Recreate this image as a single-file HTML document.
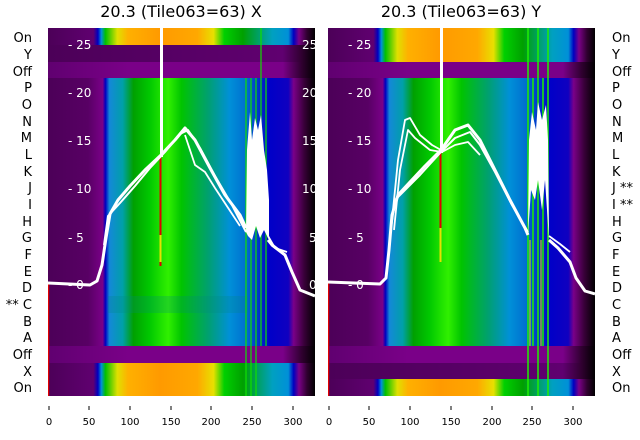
<!DOCTYPE html>
<html><head><meta charset="utf-8"><style>
html,body{margin:0;padding:0;background:#fff;width:640px;height:440px;overflow:hidden}
svg{display:block}
text{font-family:"DejaVu Sans","Liberation Sans",sans-serif}
</style></head><body>
<svg width="640" height="440" viewBox="0 0 640 440" xmlns="http://www.w3.org/2000/svg">
<defs>
<linearGradient id="main" gradientUnits="userSpaceOnUse" x1="48" y1="0" x2="315" y2="0">
<stop offset="0" stop-color="#4c0058"/><stop offset="0.15" stop-color="#580064"/>
<stop offset="0.205" stop-color="#7a0088"/><stop offset="0.215" stop-color="#0000c0"/>
<stop offset="0.23" stop-color="#1488d8"/><stop offset="0.28" stop-color="#00a0a8"/>
<stop offset="0.32" stop-color="#00a000"/><stop offset="0.38" stop-color="#00c800"/>
<stop offset="0.45" stop-color="#30f000"/><stop offset="0.5" stop-color="#00c400"/>
<stop offset="0.6" stop-color="#00a070"/><stop offset="0.68" stop-color="#0090d8"/>
<stop offset="0.74" stop-color="#0070d0"/><stop offset="0.83" stop-color="#0000c8"/>
<stop offset="0.9" stop-color="#1000c0"/><stop offset="0.92" stop-color="#7a0088"/>
<stop offset="0.96" stop-color="#380038"/><stop offset="1" stop-color="#000"/>
</linearGradient>
<linearGradient id="on" gradientUnits="userSpaceOnUse" x1="48" y1="0" x2="315" y2="0">
<stop offset="0" stop-color="#4c0058"/><stop offset="0.17" stop-color="#600070"/>
<stop offset="0.187" stop-color="#0000c0"/><stop offset="0.2" stop-color="#0090d8"/>
<stop offset="0.215" stop-color="#00c000"/><stop offset="0.26" stop-color="#e0e000"/>
<stop offset="0.3" stop-color="#ffb000"/><stop offset="0.42" stop-color="#ff9a00"/>
<stop offset="0.56" stop-color="#ffa800"/><stop offset="0.62" stop-color="#e8e000"/>
<stop offset="0.66" stop-color="#00d000"/><stop offset="0.73" stop-color="#00a000"/>
<stop offset="0.84" stop-color="#00a0c0"/><stop offset="0.9" stop-color="#0090d8"/>
<stop offset="0.92" stop-color="#0000c0"/><stop offset="0.94" stop-color="#7a0088"/>
<stop offset="0.97" stop-color="#300030"/><stop offset="1" stop-color="#000"/>
</linearGradient>
<linearGradient id="off" gradientUnits="userSpaceOnUse" x1="48" y1="0" x2="315" y2="0">
<stop offset="0" stop-color="#600070"/><stop offset="0.3" stop-color="#7a0088"/>
<stop offset="0.88" stop-color="#7a0088"/><stop offset="0.95" stop-color="#300030"/>
<stop offset="1" stop-color="#000"/>
</linearGradient>
<linearGradient id="dark" gradientUnits="userSpaceOnUse" x1="48" y1="0" x2="315" y2="0">
<stop offset="0" stop-color="#4c0058"/><stop offset="0.88" stop-color="#600070"/>
<stop offset="0.95" stop-color="#300030"/><stop offset="1" stop-color="#000"/>
</linearGradient>
<clipPath id="cl"><rect x="48" y="28" width="267" height="368"/></clipPath>
</defs>

<text x="181" y="17" font-size="16" text-anchor="middle" fill="#000">20.3 (Tile063=63) X</text>
<text x="461" y="17" font-size="16" text-anchor="middle" fill="#000">20.3 (Tile063=63) Y</text>

<!-- LEFT PANEL -->
<g clip-path="url(#cl)">
<rect x="48" y="28" width="267" height="17" fill="url(#on)"/>
<rect x="48" y="45" width="267" height="17" fill="url(#dark)"/>
<rect x="48" y="62" width="267" height="16" fill="url(#off)"/>
<rect x="48" y="78" width="267" height="268" fill="url(#main)"/>
<rect x="108" y="296" width="140" height="17" fill="#008880" opacity="0.25"/>
<rect x="48" y="346" width="267" height="17" fill="url(#off)"/>
<rect x="48" y="363" width="267" height="33" fill="url(#on)"/>
<g stroke="#10e000" stroke-width="1.2">
<line x1="246" y1="78" x2="246" y2="396"/><line x1="251" y1="78" x2="251" y2="396"/>
<line x1="256" y1="78" x2="256" y2="396"/><line x1="261" y1="28" x2="261" y2="346"/>
<line x1="266" y1="78" x2="266" y2="346"/>
</g>
<line x1="160.5" y1="157" x2="160.5" y2="266" stroke="#e00000" stroke-width="2"/>
<line x1="160.5" y1="235" x2="160.5" y2="262" stroke="#e8e000" stroke-width="2"/>
<line x1="161.5" y1="28" x2="161.5" y2="157" stroke="#fff" stroke-width="3"/>
<line x1="48.5" y1="284" x2="48.5" y2="396" stroke="#e00000" stroke-width="1.5"/>
<g fill="#fff" font-size="12">
<text x="68" y="49">- 25</text><text x="68" y="97">- 20</text><text x="68" y="145">- 15</text>
<text x="68" y="193">- 10</text><text x="68" y="242">- 5</text><text x="68" y="289">- 0</text>
<text x="302" y="49">25</text><text x="302" y="97">20</text><text x="302" y="145">15</text>
<text x="302" y="193">10</text><text x="309" y="242">5</text><text x="309" y="289">0</text>
</g>
<g fill="none" stroke="#fff" stroke-width="3" stroke-linejoin="round">
<polyline points="48,283 90,285 97,281 102,265 106,238 110,214 118,200 130,186 145,170 160,156 175,140 185,128 195,140 210,168 225,195 240,215 246,228"/>
<polyline points="104,245 108,216 120,203 135,186 150,168 165,152 180,134 188,130 200,148 215,176 232,205 246,232" stroke-width="2"/>
<polyline points="185,135 195,165 205,172 215,188 240,226" stroke-width="1.8"/>
<polyline points="268,240 272,245 285,255 292,272 300,290 315,296"/>
<polyline points="268,236 275,248 287,252" stroke-width="1.8"/>
</g>
<polygon fill="#fff" points="246,232 247,150 250,112 252,140 255,118 258,130 261,115 264,150 267,170 269,200 269,240 264,230 260,238 256,226 252,240 248,236"/>
</g>

<!-- RIGHT PANEL -->
<g transform="translate(280,0)">
<g clip-path="url(#cl)">
<rect x="48" y="28" width="267" height="34" fill="url(#on)"/>
<rect x="48" y="62" width="267" height="16" fill="url(#off)"/>
<rect x="48" y="78" width="267" height="268" fill="url(#main)"/>
<rect x="48" y="346" width="267" height="17" fill="url(#off)"/>
<rect x="48" y="363" width="267" height="16" fill="url(#dark)"/>
<rect x="48" y="379" width="267" height="17" fill="url(#on)"/>
<g stroke="#20f000" stroke-width="1.5">
<line x1="248" y1="28" x2="248" y2="396"/><line x1="253" y1="78" x2="253" y2="346"/>
<line x1="258" y1="28" x2="258" y2="396"/><line x1="263" y1="78" x2="263" y2="346"/>
<line x1="268" y1="28" x2="268" y2="396"/>
</g>
<g stroke="#e8e000" stroke-width="1">
<line x1="250" y1="240" x2="250" y2="346"/><line x1="261" y1="240" x2="261" y2="346"/>
</g>
<line x1="160.5" y1="153" x2="160.5" y2="262" stroke="#e00000" stroke-width="2"/>
<line x1="160.5" y1="228" x2="160.5" y2="262" stroke="#e8e000" stroke-width="2"/>
<line x1="161.5" y1="28" x2="161.5" y2="153" stroke="#fff" stroke-width="3"/>
<line x1="48.5" y1="283" x2="48.5" y2="396" stroke="#e00000" stroke-width="1.5"/>
<g fill="#fff" font-size="12">
<text x="68" y="49">- 25</text><text x="68" y="97">- 20</text><text x="68" y="145">- 15</text>
<text x="68" y="193">- 10</text><text x="68" y="242">- 5</text><text x="68" y="289">- 0</text>
</g>
<g fill="none" stroke="#fff" stroke-width="3" stroke-linejoin="round">
<polyline points="48,282 100,284 106,278 109,250 112,215 118,195 130,182 145,166 161,150 175,130 188,125 200,140 215,170 230,200 245,228 248,235"/>
<polyline points="110,235 115,200 125,190 140,175 161,152 175,138 190,132 200,145 215,172 232,205 248,232" stroke-width="2"/>
<polyline points="112,220 118,160 125,120 130,118 140,135 152,145 161,150" stroke-width="1.8"/>
<polyline points="114,230 120,170 128,130 135,138 150,150 162,152 175,145 188,142 200,155" stroke-width="1.8"/>
<polyline points="269,240 278,248 290,262 296,278 305,291 315,294"/>
<polyline points="269,236 280,244 290,252" stroke-width="1.8"/>
</g>
<polygon fill="#fff" points="248,234 249,140 252,112 256,130 258,102 262,120 266,105 268,140 269,240 265,180 262,210 258,180 255,200 251,190"/>
</g>
</g>

<!-- row labels -->
<g font-size="13" fill="#000">
<g text-anchor="end">
<text x="32" y="42">On</text><text x="32" y="59">Y</text><text x="32" y="76">Off</text>
<text x="32" y="92">P</text><text x="32" y="109">O</text><text x="32" y="126">N</text>
<text x="32" y="142">M</text><text x="32" y="159">L</text><text x="32" y="176">K</text>
<text x="32" y="192">J</text><text x="32" y="209">I</text><text x="32" y="226">H</text>
<text x="32" y="242">G</text><text x="32" y="259">F</text><text x="32" y="276">E</text>
<text x="32" y="292">D</text><text x="32" y="309">** C</text><text x="32" y="326">B</text>
<text x="32" y="342">A</text><text x="32" y="359">Off</text><text x="32" y="376">X</text>
<text x="32" y="392">On</text>
</g>
<g>
<text x="612" y="42">On</text><text x="612" y="59">Y</text><text x="612" y="76">Off</text>
<text x="612" y="92">P</text><text x="612" y="109">O</text><text x="612" y="126">N</text>
<text x="612" y="142">M</text><text x="612" y="159">L</text><text x="612" y="176">K</text>
<text x="612" y="192">J **</text><text x="612" y="209">I **</text><text x="612" y="226">H</text>
<text x="612" y="242">G</text><text x="612" y="259">F</text><text x="612" y="276">E</text>
<text x="612" y="292">D</text><text x="612" y="309">C</text><text x="612" y="326">B</text>
<text x="612" y="342">A</text><text x="612" y="359">Off</text><text x="612" y="376">X</text>
<text x="612" y="392">On</text>
</g>
</g>

<!-- x axes -->
<g stroke="#000" stroke-width="1">
<line x1="49" y1="406" x2="49" y2="410"/><line x1="89" y1="406" x2="89" y2="410"/>
<line x1="130" y1="406" x2="130" y2="410"/><line x1="171" y1="406" x2="171" y2="410"/>
<line x1="211" y1="406" x2="211" y2="410"/><line x1="252" y1="406" x2="252" y2="410"/>
<line x1="293" y1="406" x2="293" y2="410"/>
<line x1="329" y1="406" x2="329" y2="410"/><line x1="369" y1="406" x2="369" y2="410"/>
<line x1="410" y1="406" x2="410" y2="410"/><line x1="451" y1="406" x2="451" y2="410"/>
<line x1="492" y1="406" x2="492" y2="410"/><line x1="532" y1="406" x2="532" y2="410"/>
<line x1="573" y1="406" x2="573" y2="410"/>
</g>
<g font-size="10" fill="#000" text-anchor="middle">
<text x="49" y="425">0</text><text x="89" y="425">50</text><text x="130" y="425">100</text>
<text x="171" y="425">150</text><text x="211" y="425">200</text><text x="252" y="425">250</text>
<text x="293" y="425">300</text>
<text x="329" y="425">0</text><text x="369" y="425">50</text><text x="410" y="425">100</text>
<text x="451" y="425">150</text><text x="492" y="425">200</text><text x="532" y="425">250</text>
<text x="573" y="425">300</text>
</g>
</svg>
</body></html>
